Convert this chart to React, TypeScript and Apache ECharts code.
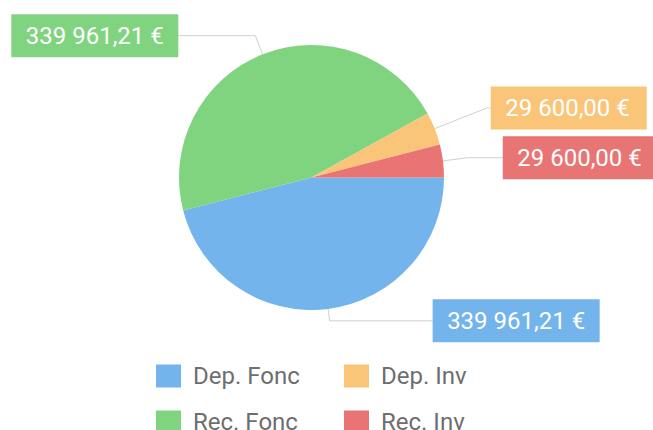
import React, { useEffect, useRef } from "react";
import * as echarts from "echarts";

const categories = ["Dep. Fonc", "Rec. Fonc", "Dep. Inv", "Rec. Inv"];
const values = [339961.21, 339961.21, 29600.0, 29600.0];
const colors = ["#72b4eb", "#80d480", "#fac578", "#e87474"];
const legendColumn1 = ["Dep. Fonc", "Rec. Fonc"];
const legendColumn2 = ["Dep. Inv", "Rec. Inv"];
const lineLengths = [12, 20, 56, 25];
const lineLengths2 = [103, 77, 4, 35];
const labelWidths = [138, 138, 127, 127];

function formatEuro(v: number): string {
  const [intPart, dec] = v.toFixed(2).split(".");
  const grouped = intPart.replace(/\B(?=(\d{3})+(?!\d))/g, " ");
  return `${grouped},${dec} €`;
}

const legendBase = {
  orient: "vertical",
  top: 364,
  height: 120,
  padding: 0,
  itemWidth: 25,
  itemHeight: 23,
  itemGap: 22,
  icon: "rect",
  textStyle: {
    fontFamily: "Roboto",
    fontSize: 24,
    color: "#6e6e6e",
    padding: [0, 0, 0, 7],
  },
};

export default function App() {
  const ref = useRef<HTMLDivElement>(null);
  useEffect(() => {
    if (!ref.current) return;
    const chart = echarts.init(ref.current, undefined, { renderer: "svg" });
    chart.setOption({
      animation: false,
      backgroundColor: "#ffffff",
      legend: [
        { ...legendBase, data: legendColumn1, left: 156 },
        { ...legendBase, data: legendColumn2, left: 344 },
      ],
      series: [
        {
          type: "pie",
          center: [311.5, 177.5],
          radius: 132.5,
          startAngle: 0,
          clockwise: true,
          avoidLabelOverlap: false,
          itemStyle: { borderWidth: 0 },
          label: {
            show: true,
            position: "outside",
            formatter: (p: any) => formatEuro(p.value),
            color: "#ffffff",
            fontFamily: "Roboto",
            fontSize: 24,
            lineHeight: 24,
            padding: [10, 14.5, 9, 14.5],
            distanceToLabelLine: 0,
            overflow: "none",
          },
          labelLine: {
            show: true,
            lineStyle: { color: "#cfcfcf", width: 1 },
          },
          emphasis: { disabled: true },
          data: categories.map((name, i) => ({
            name,
            value: values[i],
            itemStyle: { color: colors[i] },
            label: {
              backgroundColor: colors[i],
              width: labelWidths[i],
              align: "center",
              overflow: "none",
            },
            labelLine: { length: lineLengths[i], length2: lineLengths2[i] },
          })),
        },
      ],
    });
    return () => chart.dispose();
  }, []);
  return (
    <div
      ref={ref}
      style={{ position: "fixed", left: 0, top: 0, width: 653, height: 430 }}
    />
  );
}
